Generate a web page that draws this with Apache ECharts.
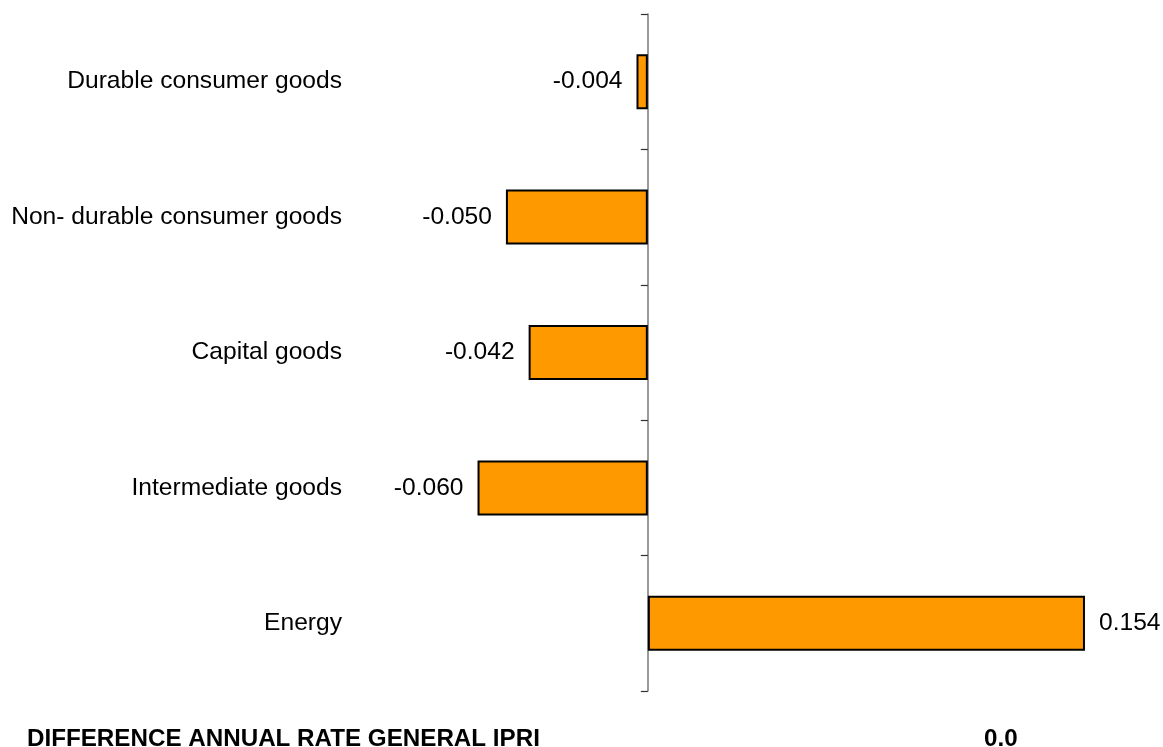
<!DOCTYPE html>
<html>
<head>
<meta charset="utf-8">
<script src="https://cdn.jsdelivr.net/npm/echarts@6/dist/echarts.min.js"></script>
<style>
html,body{margin:0;padding:0;background:#fff;}
#chart{width:1163px;height:747px;}
</style>
</head>
<body>
<div id="chart"></div>
<script>
const categories = ["Durable consumer goods", "Non- durable consumer goods", "Capital goods", "Intermediate goods", "Energy"];
const values = [-0.004, -0.050, -0.042, -0.060, 0.154];
const footerLabel = "DIFFERENCE ANNUAL RATE GENERAL IPRI";
const footerValue = "0.0";

const FONT = "'Liberation Sans', Arial, sans-serif";
const chart = echarts.init(document.getElementById('chart'), null, {renderer: 'canvas'});
chart.setOption({
  animation: false,
  backgroundColor: '#ffffff',
  grid: {left: 364, right: 61, top: 14, bottom: 56, containLabel: false},
  xAxis: {
    type: 'value', min: -0.1, max: 0.16, show: false
  },
  yAxis: [
    {
      type: 'category', data: categories, inverse: true, position: 'left',
      axisLine: {show: false, onZero: false},
      axisTick: {show: false},
      axisLabel: {color: '#000', fontSize: 24.6, fontFamily: FONT, margin: 22}
    },
    {
      type: 'category', data: categories, inverse: true, position: 'left',
      axisLine: {show: true, onZero: true, lineStyle: {color: '#7a7a7a', width: 1.5}},
      axisTick: {show: true, length: 7, lineStyle: {color: '#303030', width: 1.2}},
      axisLabel: {show: false}
    }
  ],
  series: [{
    type: 'bar',
    yAxisIndex: 0,
    data: values.map(v => ({value: v, label: {position: v < 0 ? 'left' : 'right'}})),
    barWidth: 55,
    itemStyle: {color: '#FF9900', borderColor: '#000', borderWidth: 2},
    label: {
      show: true,
      distance: 14,
      color: '#000',
      fontSize: 24.6,
      fontFamily: FONT,
      formatter: p => p.value.toFixed(3)
    }
  }],
  graphic: [
    {type: 'text', left: 27, top: 727, style: {text: footerLabel, font: "bold 24.2px " + FONT, fill: '#000'}},
    {type: 'text', left: 984, top: 727, style: {text: footerValue, font: "bold 24.2px " + FONT, fill: '#000'}}
  ]
});
</script>
</body>
</html>
